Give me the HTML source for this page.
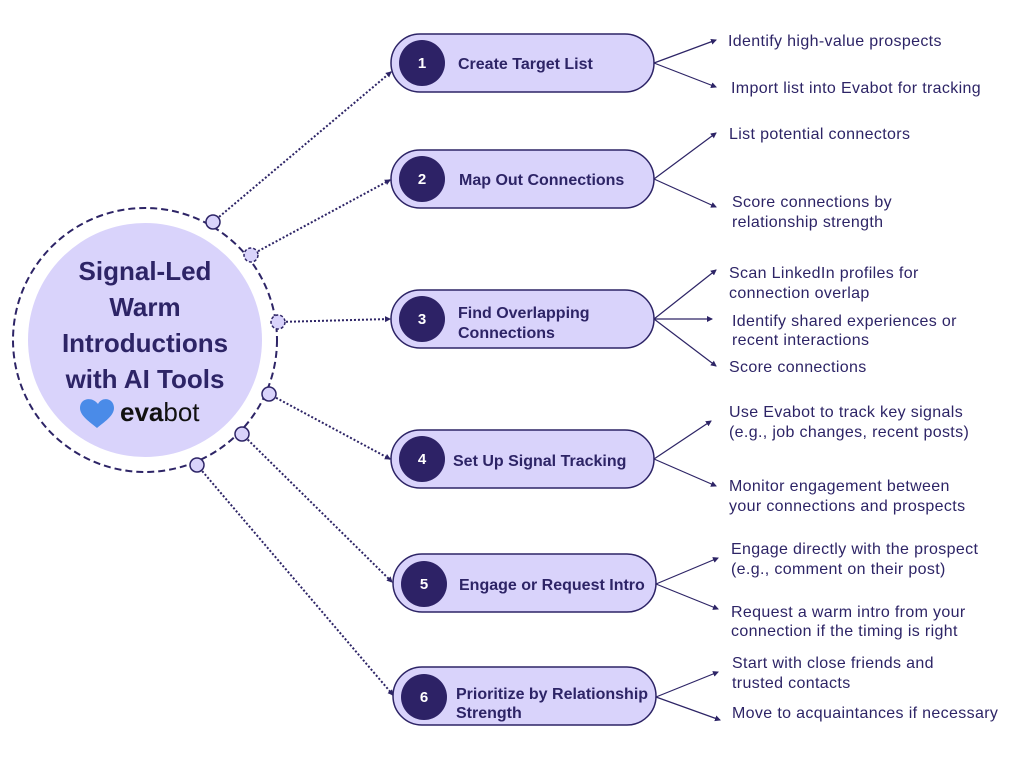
<!DOCTYPE html>
<html><head><meta charset="utf-8"><style>
html,body{margin:0;padding:0;background:#fff;}
svg{display:block;}
text{font-family:"Liberation Sans",sans-serif;}
.t{font-size:16px;fill:#2d2466;letter-spacing:0.35px;}
.p{font-size:16px;font-weight:bold;fill:#2d2466;letter-spacing:0px;}
.n{font-size:15px;font-weight:bold;fill:#fff;text-anchor:middle;}
</style></head><body>
<svg width="1024" height="768" viewBox="0 0 1024 768" xmlns="http://www.w3.org/2000/svg">
<defs>
<marker id="a" markerWidth="6" markerHeight="6" refX="5" refY="3" orient="auto" markerUnits="userSpaceOnUse"><path d="M0,0 L6,3 L0,6 z" fill="#2d2466"/></marker>
</defs>
<circle cx="145" cy="340" r="132" fill="none" stroke="#2d2466" stroke-width="2" stroke-dasharray="7,4"/>
<circle cx="145" cy="340" r="117" fill="#d9d3fb"/>
<g font-size="26" font-weight="bold" fill="#2d2466" text-anchor="middle">
<text x="145" y="280">Signal-Led</text>
<text x="145" y="316">Warm</text>
<text x="145" y="352">Introductions</text>
<text x="145" y="388">with AI Tools</text>
</g>
<path d="M98,404 C92,396 80,398 80,408 C80,416 90,422 97,428 C104,422 114,416 114,408 C114,398 102,396 98,404 Z" fill="#4a8be8"/>
<text x="120" y="421" font-size="26" fill="#111" font-weight="bold">eva<tspan font-weight="normal">bot</tspan></text>
<g stroke="#2d2466" stroke-width="2" stroke-dasharray="2,2" fill="none" marker-end="url(#a)">
<line x1="213" y1="222" x2="391" y2="72"/>
<line x1="251" y1="255" x2="390" y2="180"/>
<line x1="278" y1="322" x2="390" y2="319"/>
<line x1="269" y1="394" x2="390" y2="459"/>
<line x1="242" y1="434" x2="392" y2="582"/>
<line x1="197" y1="465" x2="393" y2="695"/>
</g>
<g fill="#d9d3fb" stroke="#2d2466" stroke-width="1.5">
<circle cx="213" cy="222" r="7"/><circle cx="251" cy="255" r="7" stroke-dasharray="3,2"/>
<circle cx="278" cy="322" r="7" stroke-dasharray="3,2"/><circle cx="269" cy="394" r="7"/>
<circle cx="242" cy="434" r="7"/><circle cx="197" cy="465" r="7"/>
</g>
<g fill="#d9d3fb" stroke="#2d2466" stroke-width="1.5">
<rect x="391" y="34" width="263" height="58" rx="29"/>
<rect x="391" y="150" width="263" height="58" rx="29"/>
<rect x="391" y="290" width="263" height="58" rx="29"/>
<rect x="391" y="430" width="263" height="58" rx="29"/>
<rect x="393" y="554" width="263" height="58" rx="29"/>
<rect x="393" y="667" width="263" height="58" rx="29"/>
</g>
<g fill="#2d2266">
<circle cx="422" cy="63" r="23"/><circle cx="422" cy="179" r="23"/><circle cx="422" cy="319" r="23"/>
<circle cx="422" cy="459" r="23"/><circle cx="424" cy="584" r="23"/><circle cx="424" cy="697" r="23"/>
</g>
<text class="n" x="422" y="68">1</text><text class="n" x="422" y="184">2</text><text class="n" x="422" y="324">3</text>
<text class="n" x="422" y="464">4</text><text class="n" x="424" y="589">5</text><text class="n" x="424" y="702">6</text>
<text class="p" x="458" y="69">Create Target List</text>
<text class="p" x="459" y="185">Map Out Connections</text>
<text class="p" x="458" y="318">Find Overlapping</text><text class="p" x="458" y="338">Connections</text>
<text class="p" x="453" y="466">Set Up Signal Tracking</text>
<text class="p" x="459" y="590">Engage or Request Intro</text>
<text class="p" x="456" y="699">Prioritize by Relationship</text><text class="p" x="456" y="718">Strength</text>
<g stroke="#2d2466" stroke-width="1.2" fill="none" marker-end="url(#a)">
<line x1="654" y1="63" x2="716" y2="40"/><line x1="654" y1="63" x2="716" y2="87"/>
<line x1="654" y1="179" x2="716" y2="133"/><line x1="654" y1="179" x2="716" y2="207"/>
<line x1="654" y1="319" x2="716" y2="270"/><line x1="654" y1="319" x2="712" y2="319"/><line x1="654" y1="319" x2="716" y2="366"/>
<line x1="654" y1="459" x2="711" y2="421"/><line x1="654" y1="459" x2="716" y2="486"/>
<line x1="656" y1="584" x2="718" y2="558"/><line x1="656" y1="584" x2="718" y2="609"/>
<line x1="656" y1="697" x2="718" y2="672"/><line x1="656" y1="697" x2="720" y2="720"/>
</g>
<text class="t" x="728" y="46">Identify high-value prospects</text>
<text class="t" x="731" y="93">Import list into Evabot for tracking</text>
<text class="t" x="729" y="139">List potential connectors</text>
<text class="t" x="732" y="207">Score connections by</text><text class="t" x="732" y="227">relationship strength</text>
<text class="t" x="729" y="278">Scan LinkedIn profiles for</text><text class="t" x="729" y="298">connection overlap</text>
<text class="t" x="732" y="326">Identify shared experiences or</text><text class="t" x="732" y="345">recent interactions</text>
<text class="t" x="729" y="372">Score connections</text>
<text class="t" x="729" y="417">Use Evabot to track key signals</text><text class="t" x="729" y="437">(e.g., job changes, recent posts)</text>
<text class="t" x="729" y="491">Monitor engagement between</text><text class="t" x="729" y="511">your connections and prospects</text>
<text class="t" x="731" y="554">Engage directly with the prospect</text><text class="t" x="731" y="574">(e.g., comment on their post)</text>
<text class="t" x="731" y="617">Request a warm intro from your</text><text class="t" x="731" y="636">connection if the timing is right</text>
<text class="t" x="732" y="668">Start with close friends and</text><text class="t" x="732" y="688">trusted contacts</text>
<text class="t" x="732" y="718">Move to acquaintances if necessary</text>
</svg>
</body></html>
